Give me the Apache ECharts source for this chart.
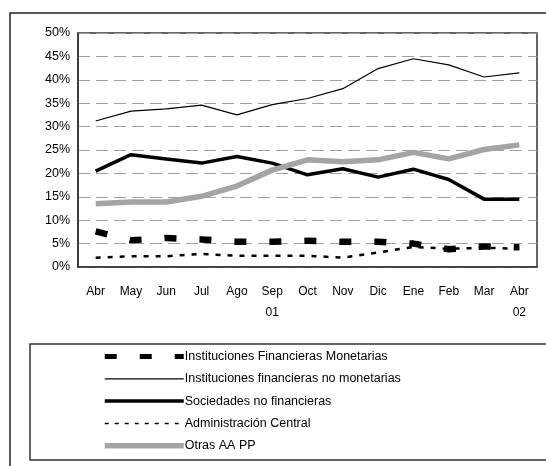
<!DOCTYPE html>
<html>
<head>
<meta charset="utf-8">
<script src="https://cdn.jsdelivr.net/npm/echarts@6/dist/echarts.min.js"></script>
<style>
html, body { margin: 0; padding: 0; background: #fff; }
#chart { width: 546px; height: 466px; }
</style>
</head>
<body>
<div id="chart"></div>
<script>
// meses (abr 2001 - abr 2002)
var months = ['Abr', 'May', 'Jun', 'Jul', 'Ago', 'Sep\n01', 'Oct', 'Nov', 'Dic', 'Ene', 'Feb', 'Mar', 'Abr\n02'];

var ifm = [7.6, 5.7, 6.2, 5.9, 5.4, 5.4, 5.6, 5.4, 5.4, 5.0, 3.8, 4.4, 4.2];
var ifNoMonet = [31.2, 33.3, 33.8, 34.6, 32.5, 34.7, 36.0, 38.1, 42.4, 44.5, 43.2, 40.6, 41.5];
var sociedades = [20.5, 24.0, 23.1, 22.2, 23.6, 22.2, 19.7, 21.0, 19.2, 20.9, 18.7, 14.5, 14.5];
var adminCentral = [2.0, 2.3, 2.3, 2.8, 2.4, 2.4, 2.4, 2.0, 3.1, 4.3, 3.9, 4.1, 3.9];
var otrasAAPP = [13.5, 13.9, 13.9, 15.1, 17.3, 20.7, 22.9, 22.5, 22.9, 24.5, 23.1, 25.1, 26.1];

var chart = echarts.init(document.getElementById('chart'));
var font = 'Liberation Sans, Arial, sans-serif';

var option = {
    animation: false,
    textStyle: { fontFamily: font },
    graphic: [
        { type: 'rect', shape: { x: 10, y: 13, width: 700, height: 600 },
          style: { fill: 'none', stroke: '#222', lineWidth: 1.5 }, z: 0 },
        { type: 'rect', shape: { x: 30, y: 344, width: 700, height: 116 },
          style: { fill: 'none', stroke: '#333', lineWidth: 1.5 }, z: 0 }
    ],
    grid: {
        left: 78, top: 33, right: 9, bottom: 199,
        show: true, borderColor: '#333', borderWidth: 1.5
    },
    legend: {
        orient: 'vertical',
        left: 102, top: 350, padding: 0,
        itemWidth: 79, itemHeight: 14, itemGap: 9.3,
        itemStyle: { opacity: 0 },
        textStyle: { fontSize: 12.5, color: '#000', fontFamily: font, padding: [0, 0, 0, -4] },
        data: [
            { name: 'Instituciones Financieras Monetarias', lineStyle: { width: 5, type: [12, 23], cap: 'butt' } },
            { name: 'Instituciones financieras no monetarias', lineStyle: { width: 1.2 } },
            { name: 'Sociedades no financieras', lineStyle: { width: 3.5 } },
            { name: 'Administración Central', lineStyle: { width: 1.5, type: [4, 6], cap: 'butt' } },
            { name: 'Otras AA PP', lineStyle: { width: 5.5 } }
        ]
    },
    xAxis: {
        type: 'category',
        data: months,
        boundaryGap: true,
        axisLine: { show: true, lineStyle: { color: '#333', width: 1.5 } },
        axisTick: { show: false },
        axisLabel: { color: '#000', fontSize: 12, margin: 14, lineHeight: 21, fontFamily: font }
    },
    yAxis: {
        type: 'value',
        min: 0, max: 50, interval: 5,
        axisLine: { show: true, lineStyle: { color: '#333', width: 1.5 } },
        axisTick: { show: false },
        axisLabel: { formatter: '{value}%', color: '#000', fontSize: 12.5, margin: 8, fontFamily: font },
        splitLine: { lineStyle: { color: '#a0a0a0', type: [12, 6], width: 1 } }
    },
    series: [
        {
            name: 'Instituciones Financieras Monetarias', type: 'line', data: ifm,
            symbol: 'none',
            lineStyle: { color: '#000', width: 6.5, type: [12, 23], cap: 'butt' },
            itemStyle: { color: '#000' }
        },
        {
            name: 'Instituciones financieras no monetarias', type: 'line', data: ifNoMonet,
            symbol: 'none',
            lineStyle: { color: '#000', width: 1.2 },
            itemStyle: { color: '#000' }
        },
        {
            name: 'Sociedades no financieras', type: 'line', data: sociedades,
            symbol: 'none',
            lineStyle: { color: '#000', width: 3.5 },
            itemStyle: { color: '#000' }
        },
        {
            name: 'Administración Central', type: 'line', data: adminCentral,
            symbol: 'none',
            lineStyle: { color: '#000', width: 2.5, type: [5, 7], cap: 'butt' },
            itemStyle: { color: '#000' }
        },
        {
            name: 'Otras AA PP', type: 'line', data: otrasAAPP,
            symbol: 'none',
            lineStyle: { color: '#a4a4a4', width: 5.5 },
            itemStyle: { color: '#a4a4a4' }
        }
    ]
};

chart.setOption(option);
</script>
</body>
</html>
